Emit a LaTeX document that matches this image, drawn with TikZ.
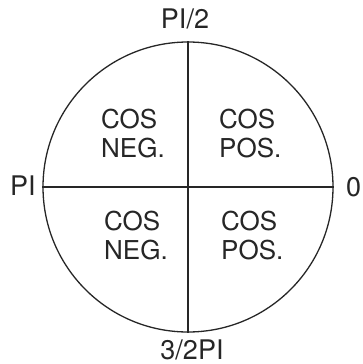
\documentclass[tikz,border=0pt]{standalone}
\usepackage{fontspec}
\setmainfont{TeX Gyre Heros}
\usepackage{tikz}
\usetikzlibrary{positioning}

\begin{document}
\begin{tikzpicture}[x=1pt,y=-1pt,
    rimline/.style={line width=1.3pt,black!85},
    axislbl/.style={font=\fontsize{27}{30}\selectfont,inner sep=0pt,text=black!85},
    quad/.style={font=\fontsize{26}{29}\selectfont,align=left,inner sep=0pt,
                 anchor=base west,text=black!85}]
  \useasboundingbox (0,0) rectangle (362,364);
  \node[circle,draw,rimline,minimum size=290pt,inner sep=0pt] (rim) at (188,187) {};
  \draw[rimline] (rim.north) -- (rim.south);
  \draw[rimline] (rim.west) -- (rim.east);
  % angle labels
  \node[axislbl,anchor=base] (top) at (185,28) {PI/2};
  \node[axislbl,anchor=base west] (left) at (10,195) {PI};
  \node[axislbl,anchor=base west] (right) at (346,196) {0};
  \node[axislbl,anchor=base] (bottom) at (192,359) {3/2PI};
  % quadrant texts
  \node[quad] (q2) at (101,157) {COS\\NEG.};
  \node[quad] (q1) at (219,157) {COS\\POS.};
  \node[quad] (q3) at (104,259) {COS\\NEG.};
  \node[quad] (q4) at (221,259) {COS\\POS.};
\end{tikzpicture}
\end{document}
